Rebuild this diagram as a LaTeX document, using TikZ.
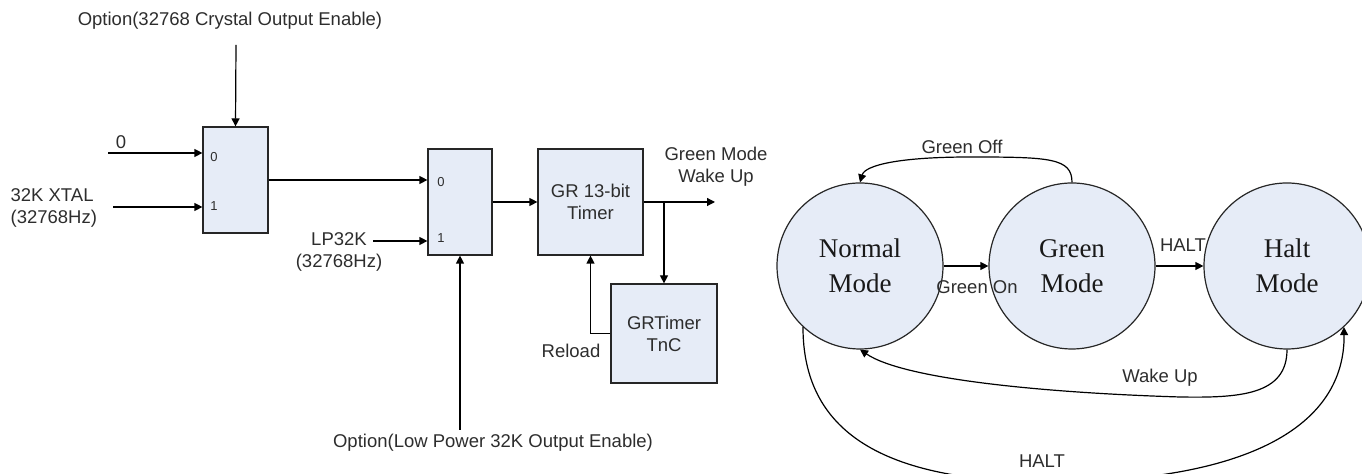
\documentclass[tikz,border=0pt]{standalone}
\usepackage{fontspec}
\setmainfont{Liberation Serif}
\setsansfont{Liberation Sans}
\usetikzlibrary{arrows.meta}
\definecolor{boxfill}{RGB}{230,236,247}
\definecolor{txt}{RGB}{45,45,45}
\begin{document}
\begin{tikzpicture}[x=0.5pt,y=-0.5pt,
  line width=0.6pt,
  arr/.style={-{Triangle[length=4pt,width=4pt]}},
  blk/.style={draw=black!85, fill=boxfill, inner sep=0pt, align=center, font=\sffamily\fontsize{9.25}{11}\selectfont, text=txt},
  st/.style={circle, draw=black!85, fill=boxfill, minimum size=83pt, inner sep=0pt, align=center, font=\fontsize{13.5}{17.5}\selectfont, text=black!90},
  lbl/.style={inner sep=0pt, align=center, font=\sffamily\fontsize{9.25}{11}\selectfont, text=txt},
  sm/.style={inner sep=0pt, font=\sffamily\fontsize{6.5}{8}\selectfont, text=txt},
]
\useasboundingbox (0,0) rectangle (1362,474);
\clip (0,0) rectangle (1362,474);

% ---------- block diagram ----------
\node[blk, minimum width=32.5pt, minimum height=53pt] (mux1) at (235.5,180) {};
\node[blk, minimum width=32pt, minimum height=53pt] (mux2) at (460,202) {};
\node[blk, minimum width=52.5pt, minimum height=53pt] (timer) at (590.5,202) {GR 13-bit\\Timer};
\node[blk, minimum width=53pt, minimum height=49.5pt] (tnc) at (664,333.5) {GRTimer\\TnC};

\node[sm] (m1a) at (214,157) {0};
\node[sm] (m1b) at (214,206) {1};
\node[sm] (m2a) at (441,182) {0};
\node[sm] (m2b) at (441,238) {1};

\node[lbl] (opt1) at (230,21) {Option(32768 Crystal Output Enable)};
\node[lbl] (opt2) at (493,443) {Option(Low Power 32K Output Enable)};
\node[lbl] (zero) at (121,142) {0};
\node[lbl, anchor=west, align=left] (xtal) at (10,207.5) {32K XTAL\\(32768Hz)};
\node[lbl] (lp) at (339,252) {LP32K\\(32768Hz)};
\node[lbl] (gmw) at (716,167) {Green Mode\\Wake Up};
\node[lbl] (reload) at (571,351) {Reload};

\coordinate (o1) at (236,45);
\coordinate (o2) at (460,430);
\coordinate (in0) at (108,153);
\coordinate (in1) at (113,207);
\coordinate (inlp) at (373,241);
\coordinate (out) at (715,202);
\coordinate (br) at (664,202);

\draw[arr] (o1) -- (mux1.north);
\draw[arr] (in0) -- (in0 -| mux1.west);
\draw[arr] (in1) -- (in1 -| mux1.west);
\draw[arr] (mux1.east) -- (mux1.east -| mux2.west);
\draw[arr] (inlp) -- (inlp -| mux2.west);
\draw[arr] (o2) -- (mux2.south);
\draw[arr] (mux2.east) -- (timer.west);
\draw[arr] (timer.east) -- (out);
\draw[arr] (br) -- (tnc.north);
\draw[arr] (tnc.west) -| (timer.south);

% ---------- state diagram ----------
\node[st] (normal) at (860,266) {Normal\\Mode};
\node[st] (green) at (1072,266) {Green\\Mode};
\node[st] (halt) at (1287,266) {Halt\\Mode};

\draw[arr] (normal) -- (green);
\draw[arr] (green) -- (halt);
\draw[arr] (green.north) .. controls (1072,158) and (1050,157) .. (970,157)
  .. controls (900,157) and (865,165) .. (normal.north);
\draw[arr] (halt.south) .. controls (1287,395) and (1240,398) .. (1180,397)
  .. controls (1050,393) and (905,380) .. (normal.south);
\draw[arr] (normal.227) .. controls (803,430) and (880,482) .. (1050,482)
  .. controls (1250,482) and (1345,425) .. (halt.313);

\node[lbl] (lgon) at (977,287) {Green On};
\node[lbl] (lhalt1) at (1183,245) {HALT};
\node[lbl] (lgoff) at (962,147) {Green Off};
\node[lbl] (lwake) at (1160,378) {Wake Up};
\node[lbl] (lhalt2) at (1042,461) {HALT};
\end{tikzpicture}
\end{document}
